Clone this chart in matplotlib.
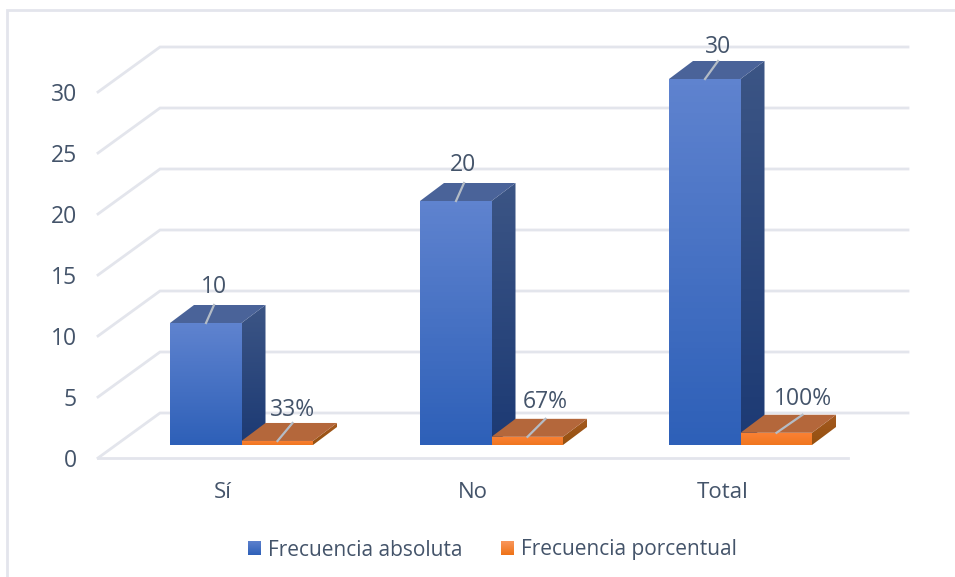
import numpy as np
import matplotlib
matplotlib.use("Agg")
import matplotlib.pyplot as plt
from matplotlib.colors import LinearSegmentedColormap
from matplotlib.patches import Polygon

categories = ["Sí", "No", "Total"]
absoluta = [10, 20, 30]
porcentual = [0.33, 0.67, 1.0]
etiquetas_abs = ["10", "20", "30"]
etiquetas_pct = ["33%", "67%", "100%"]
yticks = [0, 5, 10, 15, 20, 25, 30]
series_names = ["Frecuencia absoluta", "Frecuencia porcentual"]

W, H = 955, 577
TEXT = "#44546a"
GRID = "#e3e5ec"
plt.rcParams["font.family"] = ["Open Sans", "DejaVu Sans"]

fig = plt.figure(figsize=(W / 100, H / 100), dpi=100)
ax = fig.add_axes([0, 0, 1, 1])
ax.axis("off")

# front plane: 250 px per category starting at x=98, 12.2 px per unit above y=458
x0, x1, y0, y1 = 98, 848, 458, 92
px = 3 / (x1 - x0)
py = 30 / (y0 - y1)


def gradient(poly, top, bottom, zorder):
    xs = [p[0] for p in poly]
    ys = [p[1] for p in poly]
    c = LinearSegmentedColormap.from_list("g", [bottom, top])
    im = ax.imshow(np.linspace(1, 0, 64).reshape(-1, 1), cmap=c, aspect="auto",
                   extent=(min(xs), max(xs), min(ys), max(ys)), zorder=zorder)
    patch = Polygon(poly, closed=True, fc="none", ec="none")
    ax.add_patch(patch)
    im.set_clip_path(patch)


def bar3d(bx, val, front, side, top, zorder):
    # front face sits a little way into the floor, depth goes up and to the right
    w = 71.5 * px
    by = 13 * py
    dx = 24 * px
    dy = 18 * py
    gradient([(bx, by), (bx + w, by), (bx + w, by + val), (bx, by + val)],
             front[0], front[1], zorder + 0.2)
    gradient([(bx + w, by), (bx + w + dx, by + dy), (bx + w + dx, by + dy + val), (bx + w, by + val)],
             side[0], side[1], zorder + 0.1)
    ax.add_patch(Polygon([(bx, by + val), (bx + w, by + val), (bx + w + dx, by + val + dy), (bx + dx, by + val + dy)],
                         closed=True, fc=top, ec="none", zorder=zorder + 0.1))


# gridlines: slanted on the side wall, flat on the back wall
back_dx = 62 * px
back_dy = 45 * py
for t in yticks:
    ax.plot([0, back_dx, 3 + 60 * px], [t, t + back_dy, t + back_dy], color=GRID, lw=2,
            zorder=1, solid_joinstyle="miter")
    ax.text(-21 * px, t - 3 * py, str(t), ha="right", va="center", color=TEXT, fontsize=16.5)
ax.plot([0, 3], [0, 0], color=GRID, lw=2, zorder=1)

blue_front = ("#5f83cf", "#2e60b8")
blue_side = ("#3c5585", "#1c3a74")
orange_front = ("#fb8236", "#f0761f")
orange_side = ("#a55a20", "#94500f")

# placement of the bars and of the value labels, all in px
bar_left = [72, 322, 571]
abs_line_dx = [8, 8, 13]
abs_text = [(44, 18), (43, 18), (49, 14)]
pct_line_dx = [15, 18, 26]
pct_text = [(51, 13), (54, 17), (62, 16)]

for i, cat in enumerate(categories):
    xl = bar_left[i] * px
    xr = xl + 71.5 * px
    bar3d(xl, absoluta[i], blue_front, blue_side, "#4a6399", 2 + i)
    bar3d(xr, porcentual[i], orange_front, orange_side, "#b4673b", 3 + i)

    by = 13 * py
    back = 18 * py
    line_x = 36 * px
    ax.plot([xl + line_x, xl + line_x + abs_line_dx[i] * px], [by + absoluta[i], by + absoluta[i] + back],
            color="#b4bcc6", lw=1.6, zorder=9)
    ax.text(xl + abs_text[i][0] * px, by + absoluta[i] + back + abs_text[i][1] * py, etiquetas_abs[i],
            ha="center", va="center", color=TEXT, fontsize=16.5, zorder=10)
    ax.plot([xr + line_x, xr + line_x + pct_line_dx[i] * px], [by + porcentual[i], by + porcentual[i] + back],
            color="#b4bcc6", lw=1.6, zorder=9)
    ax.text(xr + pct_text[i][0] * px, by + porcentual[i] + back + pct_text[i][1] * py, etiquetas_pct[i],
            ha="center", va="center", color=TEXT, fontsize=16.5, zorder=10)
    ax.text(i + 0.5, -34 * py, cat, ha="center", va="center", color=TEXT, fontsize=16)

# outer frame, open on the right
ax.plot([-91 * px, -91 * px, 3 + 107 * px], [-119 * py, 448 * py, 448 * py], color=GRID, lw=2, zorder=1,
        solid_joinstyle="miter")

# legend
legend_items = [(150, ("#5c80cd", "#2e60b8"), series_names[0], 170),
                (403, ("#f9975c", "#ee7217"), series_names[1], 423)]
for xs, colors, name, xt in legend_items:
    sx0, sx1 = xs * px, (xs + 13) * px
    sy0, sy1 = -97 * py, -83 * py
    gradient([(sx0, sy0), (sx1, sy0), (sx1, sy1), (sx0, sy1)], colors[0], colors[1], 5)
    ax.text(xt * px, -92 * py, name, ha="left", va="center", color=TEXT, fontsize=15)

ax.set_xlim(-x0 * px, 3 + (W - x1) * px)
ax.set_ylim(-(H - y0) * py, 30 + y1 * py)

fig.savefig("out.png", dpi=100, facecolor="white")
